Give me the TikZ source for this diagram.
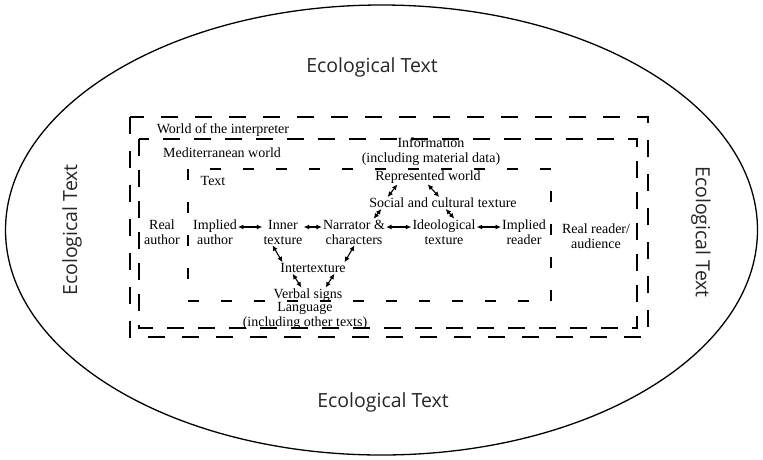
\documentclass[tikz,border=0pt]{standalone}
\usepackage{fontspec}
\setmainfont{Liberation Serif}
\newfontfamily\ecofont{Open Sans}
\usetikzlibrary{arrows.meta}
\begin{document}
\begin{tikzpicture}[x=1pt,y=-1pt,
  txt/.style={inner sep=0pt,align=center,font=\fontsize{14}{15}\selectfont},
  eco/.style={inner sep=0pt,text=black!85,font=\ecofont\fontsize{19.5}{21}\selectfont},
  dbl/.style={{Latex[length=5.5pt,width=5pt]}-{Latex[length=5.5pt,width=5pt]},line width=1.1pt,shorten <=1pt,shorten >=1pt},
  box/.style={line width=1.6pt}]
\useasboundingbox (0,0) rectangle (763,459);
\draw[line width=1.3pt] (381.5,230) ellipse [x radius=376, y radius=225];
\node[eco] (ecotop) at (372,67) {Ecological Text};
\node[eco] (ecobot) at (383,402) {Ecological Text};
\node[eco,rotate=90] (ecoleft) at (72,230) {Ecological Text};
\node[eco,rotate=-90] (ecoright) at (701,232) {Ecological Text};
\draw[box,dash pattern=on 17pt off 17pt] (130,117) rectangle (648,337);
\draw[box,dash pattern=on 17pt off 14pt] (139,139) rectangle (637,328);
\draw[box,dash pattern=on 11pt off 22pt] (188,169) rectangle (551,301);
\node[txt] (interp) at (223,130) {World of the interpreter};
\node[txt] (medit) at (222,153) {Mediterranean world};
\node[txt] (text) at (213,181) {Text};
\node[txt] (info) at (431,152) {Information\\(including material data)};
\node[txt] (repw) at (428,177) {Represented world};
\node[txt] (social) at (443,203) {Social and cultural texture};
\node[txt] (realauth) at (162,232) {Real\\author};
\node[txt] (impauth) at (215,232) {Implied\\author};
\node[txt] (inner) at (283,232) {Inner\\texture};
\node[txt] (narr) at (354,232) {Narrator \&\\characters};
\node[txt] (ideo) at (444,232) {Ideological\\texture};
\node[txt] (impread) at (524,232) {Implied\\reader};
\node[txt] (realread) at (596,236) {Real reader/\\audience};
\node[txt] (inter) at (313,268) {Intertexture};
\node[txt] (verbal) at (308,295) {Verbal signs};
\node[txt] (lang) at (305,316) {Language\\(including other texts)};
\draw[dbl] ([yshift=5pt]impauth.east) -- ([yshift=5pt]inner.west);
\draw[dbl] ([yshift=5pt]inner.east) -- ([yshift=5pt]narr.west);
\draw[dbl] ([yshift=5pt]narr.east) -- ([yshift=5pt]ideo.west);
\draw[dbl] ([yshift=5pt]ideo.east) -- ([yshift=5pt]impread.west);
\draw[dbl] ([xshift=-30pt]repw.south) -- ([xshift=-56pt]social.north);
\draw[dbl] ([xshift=-1pt]repw.south) -- ([xshift=-3pt]social.north);
\draw[dbl] ([xshift=-61pt]social.south) -- ([xshift=19pt]narr.north);
\draw[dbl] ([xshift=2pt]social.south) -- ([xshift=11pt]ideo.north);
\draw[dbl] ([xshift=-11pt]inner.south) -- ([xshift=-30pt]inter.north);
\draw[dbl] ([xshift=1pt]narr.south) -- ([xshift=31pt]inter.north);
\draw[dbl] ([xshift=-21pt]inter.south) -- ([xshift=-6pt]verbal.north);
\draw[dbl] ([xshift=22pt]inter.south) -- ([xshift=17pt]verbal.north);
\end{tikzpicture}
\end{document}
